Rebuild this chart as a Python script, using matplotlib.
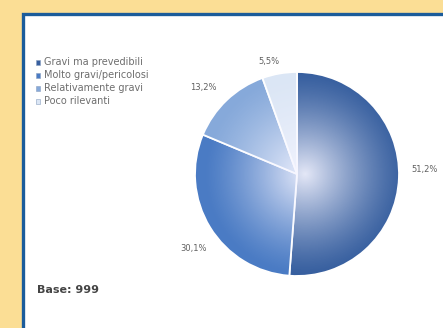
import numpy as np
import matplotlib.pyplot as plt
from matplotlib.patches import Rectangle, Circle

# survey shares, in pie order (clockwise from 12 o'clock)
categories = ["Gravi ma prevedibili", "Molto gravi/pericolosi",
              "Relativamente gravi", "Poco rilevanti"]
shares = [51.2, 30.1, 13.2, 5.5]
slice_colors = ["#375f9f", "#4a7bc4", "#86a9da", "#dbe6f5"]
base_note = "Base: 999"

W, H = 443, 328
fig = plt.figure(figsize=(W / 100, H / 100), dpi=100)
fig.patch.set_facecolor("#fbde95")

# axes in pixel units, y going up
ax = fig.add_axes([0, 0, 1, 1])

# white panel with blue frame running off the right/bottom edges
ax.add_patch(Rectangle((23.5, -10), W, H - 13.5 + 10, facecolor="white",
                       edgecolor="#1b5c9b", linewidth=2.4, zorder=0))

cx, cy, R = 297, H - 174, 102

def pct(v):
    return f"{v:.1f}%".replace(".", ",")

wedges, texts = ax.pie(
    shares, colors=slice_colors, startangle=90, counterclock=False,
    center=(cx, cy), radius=R, labels=[pct(v) for v in shares],
    frame=True,
    wedgeprops=dict(edgecolor="white", linewidth=1.3),
    textprops=dict(fontsize=6, color="#606060"),
)
ax.set_xlim(0, W)
ax.set_ylim(0, H)
ax.set_aspect("equal")
ax.axis("off")

# place labels just outside each wedge, nudged a little counter-clockwise
for w, t in zip(wedges, texts):
    mid = np.radians((w.theta1 + w.theta2) / 2 + 4)
    dist = R * (1.14 if (w.theta2 - w.theta1) < 30 else 1.25)
    t.set_position((cx + dist * np.cos(mid), cy + dist * np.sin(mid)))
    t.set_ha("center")
    t.set_va("center")
    t.set_zorder(5)

# soft radial highlight toward the centre
n = 300
gx, gy = np.meshgrid(np.linspace(-1, 1, n), np.linspace(-1, 1, n))
rr = np.clip(np.hypot(gx - 0.08, gy), 0, 1)
shade = np.zeros((n, n, 4))
shade[..., :3] = [0.96, 0.96, 1.0]
shade[..., 3] = 0.92 * np.clip(1 - rr, 0, 1) ** 1.3
img = ax.imshow(shade, extent=(cx - R, cx + R, cy - R, cy + R),
                origin="lower", zorder=3, interpolation="bilinear")
img.set_clip_path(Circle((cx, cy), R, transform=ax.transData))

# legend block on the left
for i, (name, col) in enumerate(zip(categories, slice_colors)):
    y = H - 62 - i * 13
    ax.add_patch(Rectangle((36, y - 2.5), 4.5, 4.5, facecolor=col,
                           edgecolor="#8aa0c0", linewidth=0.4, zorder=4))
    ax.text(44, y, name, fontsize=7, color="#6e6e6e", va="center",
            ha="left", zorder=4)

ax.text(37, H - 290, base_note, fontsize=8, fontweight="bold",
        color="#444444", va="center", ha="left")

fig.savefig("out.png", dpi=100, facecolor=fig.get_facecolor())
